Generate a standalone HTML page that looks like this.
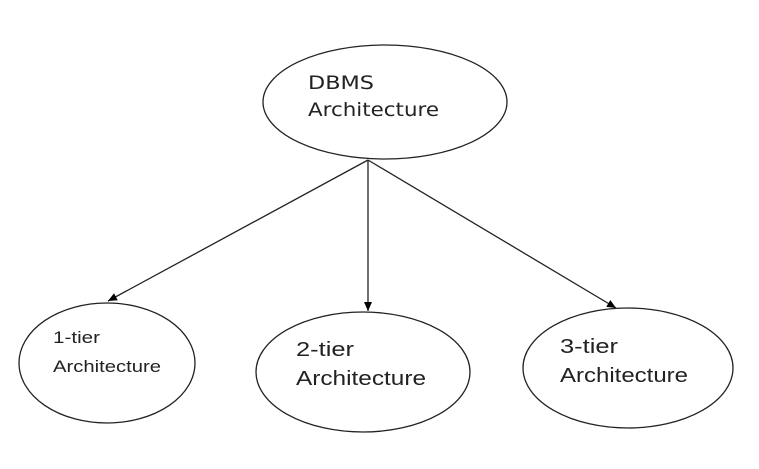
<!DOCTYPE html>
<html><head><meta charset="utf-8"><style>html,body{margin:0;padding:0;background:#fff}</style></head>
<body>
<svg width="759" height="464" viewBox="0 0 759 464" xmlns="http://www.w3.org/2000/svg">
<defs><marker id="a" markerWidth="10" markerHeight="10" refX="9" refY="5" orient="auto" markerUnits="userSpaceOnUse"><path d="M0,1 L9,5 L0,9 z" fill="#000"/></marker></defs>
<g fill="none" stroke="#222" stroke-width="1.3">
<ellipse cx="385" cy="102" rx="122" ry="57"/>
<ellipse cx="107" cy="363" rx="88" ry="60"/>
<ellipse cx="363" cy="372" rx="107" ry="60"/>
<ellipse cx="628" cy="368" rx="105" ry="60"/>
<line x1="368" y1="160" x2="108" y2="301" marker-end="url(#a)"/>
<line x1="368" y1="160" x2="368" y2="311" marker-end="url(#a)"/>
<line x1="368" y1="160" x2="616" y2="308" marker-end="url(#a)"/>
</g>
<g fill="#222" font-family="DejaVu Sans, sans-serif" font-size="19">
<text x="308" y="89" textLength="66" lengthAdjust="spacingAndGlyphs">DBMS</text>
<text x="308" y="116" textLength="131" lengthAdjust="spacingAndGlyphs">Architecture</text>
</g>
<g fill="#222" font-family="Liberation Sans, sans-serif">
<text x="53" y="343" font-size="17" textLength="47" lengthAdjust="spacingAndGlyphs">1-tier</text>
<text x="53" y="372" font-size="17" textLength="108" lengthAdjust="spacingAndGlyphs">Architecture</text>
<text x="296" y="356" font-size="20" textLength="58" lengthAdjust="spacingAndGlyphs">2-tier</text>
<text x="296" y="385" font-size="20" textLength="130" lengthAdjust="spacingAndGlyphs">Architecture</text>
<text x="560" y="353" font-size="20" textLength="58" lengthAdjust="spacingAndGlyphs">3-tier</text>
<text x="560" y="382" font-size="20" textLength="128" lengthAdjust="spacingAndGlyphs">Architecture</text>
</g>
</svg>
</body></html>
